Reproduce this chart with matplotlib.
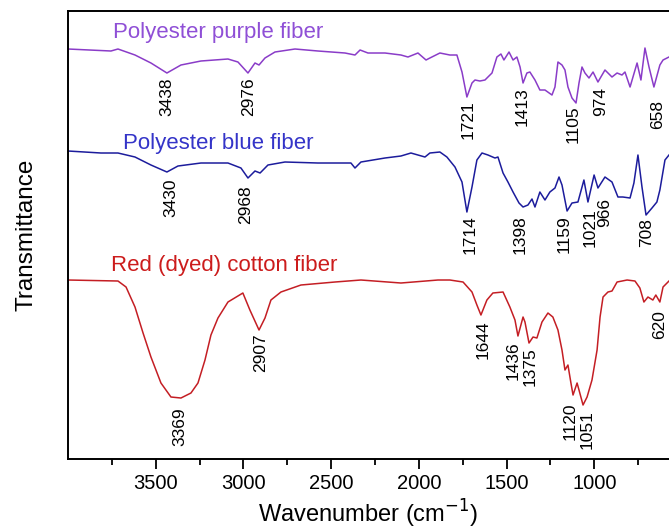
import matplotlib
matplotlib.use('Agg')
import matplotlib.pyplot as plt

plt.rcParams['font.family'] = ['Liberation Sans', 'DejaVu Sans']

# FTIR spectra (wavenumber in cm-1, transmittance in a.u., already offset)
purple_wn = [4000, 3755, 3715, 3618, 3527, 3436, 3356, 3242, 3088, 3031, 2974, 2934, 2911, 2877,
             2820, 2706, 2575, 2421, 2364, 2335, 2290, 2193, 2102, 2062, 2005, 1959, 1937, 1880,
             1823, 1783, 1754, 1726, 1697, 1680, 1652, 1623, 1606, 1583, 1555, 1532, 1515, 1486,
             1463, 1441, 1423, 1406, 1384, 1367, 1338, 1310, 1281, 1241, 1224, 1207, 1184, 1167,
             1150, 1127, 1104, 1087, 1070, 1053, 1030, 1007, 979, 939, 899, 870, 842, 825, 796,
             756, 734, 711, 688, 660, 626, 608, 574]
purple_t = [410, 408, 410, 404, 396, 386, 394, 398, 400, 397, 386, 396, 394, 401,
            407, 410, 408, 406, 404, 409, 406, 406, 404, 402, 406, 399, 401, 406,
            404, 404, 387, 362, 376, 379, 378, 379, 382, 386, 402, 405, 399, 407,
            399, 402, 392, 376, 386, 387, 379, 369, 369, 364, 372, 397, 394, 389,
            372, 361, 356, 376, 392, 386, 381, 387, 377, 389, 382, 386, 384, 387, 372,
            396, 379, 411, 392, 372, 394, 399, 402]

blue_wn = [4000, 3812, 3715, 3618, 3527, 3436, 3373, 3242, 3088, 3014, 2974, 2934, 2905, 2860,
           2763, 2575, 2387, 2364, 2330, 2193, 2102, 2045, 1965, 1937, 1880, 1840, 1794, 1754,
           1726, 1697, 1669, 1640, 1606, 1566, 1549, 1520, 1492, 1463, 1429, 1406, 1378, 1355,
           1338, 1310, 1281, 1253, 1224, 1201, 1184, 1155, 1127, 1093, 1059, 1036, 1001, 979,
           939, 899, 865, 837, 796, 774, 751, 728, 705, 671, 643, 626, 597, 574]
blue_t = [308, 306, 306, 302, 294, 287, 293, 296, 296, 291, 281, 288, 286, 294,
          297, 296, 296, 291, 297, 301, 303, 306, 302, 306, 307, 302, 292, 277,
          247, 272, 299, 306, 304, 301, 302, 286, 277, 267, 256, 252, 254, 260,
          252, 267, 259, 267, 271, 282, 274, 248, 256, 257, 279, 257, 284, 271,
          282, 277, 262, 262, 261, 276, 304, 272, 244, 251, 257, 269, 299, 304]

red_wn = [4000, 3715, 3669, 3618, 3572, 3527, 3470, 3413, 3356, 3299, 3259, 3219, 3185, 3145,
          3088, 3003, 2963, 2911, 2877, 2843, 2786, 2672, 2478, 2330, 2102, 1891, 1823, 1748,
          1697, 1669, 1646, 1612, 1578, 1520, 1481, 1452, 1435, 1406, 1395, 1372, 1349, 1327,
          1298, 1264, 1236, 1207, 1184, 1167, 1150, 1133, 1121, 1098, 1087, 1064, 1041, 1013,
          984, 967, 950, 922, 899, 870, 813, 768, 740, 717, 694, 666, 649, 626, 608, 574]
red_t = [179, 178, 172, 152, 126, 102, 76, 62, 61, 66, 76, 99, 124, 141,
         157, 166, 149, 129, 141, 159, 167, 174, 177, 179, 176, 179, 179, 177,
         167, 154, 144, 159, 166, 167, 152, 139, 123, 142, 137, 116, 122, 121,
         137, 146, 142, 129, 109, 89, 94, 76, 64, 76, 69, 54, 62, 79,
         109, 142, 162, 167, 168, 177, 179, 178, 171, 157, 162, 159, 164, 157, 172, 178]

# peak labels: text, x position (cm-1), top of label (a.u.)
purple_peaks = ['3438', '2976', '1721', '1413', '1105', '974', '658']
purple_peak_x = [3436, 2968, 1720, 1413, 1121, 962, 637]
purple_peak_y = [382, 382, 359, 372, 354, 372, 359]

blue_peaks = ['3430', '2968', '1714', '1398', '1159', '1021', '966', '708']
blue_peak_x = [3413, 2985, 1708, 1423, 1172, 1024, 939, 699]
blue_peak_y = [281, 274, 244, 244, 244, 251, 261, 241]

red_peaks = ['3369', '2907', '1644', '1436', '1375', '1120', '1051', '620']
red_peak_x = [3362, 2900, 1634, 1463, 1366, 1138, 1041, 626]
red_peak_y = [52, 126, 139, 118, 112, 57, 49, 149]

major_ticks = [3500, 3000, 2500, 2000, 1500, 1000]
minor_ticks = [3750, 3250, 2750, 2250, 1750, 1250, 750]

fig = plt.figure(figsize=(6.69, 5.29), dpi=100)
ax = fig.add_axes([0.1016, 0.1323, 0.8984, 0.8469])

ax.plot(purple_wn, purple_t, color='#8a3cc8', lw=1.1)
ax.plot(blue_wn, blue_t, color='#1c1c9c', lw=1.1)
ax.plot(red_wn, red_t, color='#c41e24', lw=1.1)

ax.text(3743, 427, 'Polyester purple fiber', color='#8f4fd6', fontsize=16, ha='left', va='center')
ax.text(3686, 316, 'Polyester blue fiber', color='#3434c8', fontsize=16, ha='left', va='center')
ax.text(3755, 194, 'Red (dyed) cotton fiber', color='#cc1c1c', fontsize=16, ha='left', va='center')

for labels, xs, ys in [(purple_peaks, purple_peak_x, purple_peak_y),
                       (blue_peaks, blue_peak_x, blue_peak_y),
                       (red_peaks, red_peak_x, red_peak_y)]:
    for lab, x, y in zip(labels, xs, ys):
        ax.text(x, y, lab, rotation=90, fontsize=12.5, ha='center', va='top', color='black')

ax.set_xlim(4000, 574)
ax.set_ylim(0, 448)
ax.set_xticks(major_ticks)
ax.set_xticks(minor_ticks, minor=True)
ax.set_yticks([])
ax.tick_params(axis='x', which='major', direction='out', length=7, width=1.3, labelsize=14.5, pad=4)
ax.tick_params(axis='x', which='minor', direction='out', length=4, width=1.3)
ax.spines['right'].set_visible(False)
for s in ['left', 'top', 'bottom']:
    ax.spines[s].set_linewidth(1.4)

ax.set_xlabel('Wavenumber (cm$^{-1}$)', fontsize=17, labelpad=3)
ax.set_ylabel('Transmittance', fontsize=17.5, labelpad=22)

fig.savefig('out.png', dpi=100)
